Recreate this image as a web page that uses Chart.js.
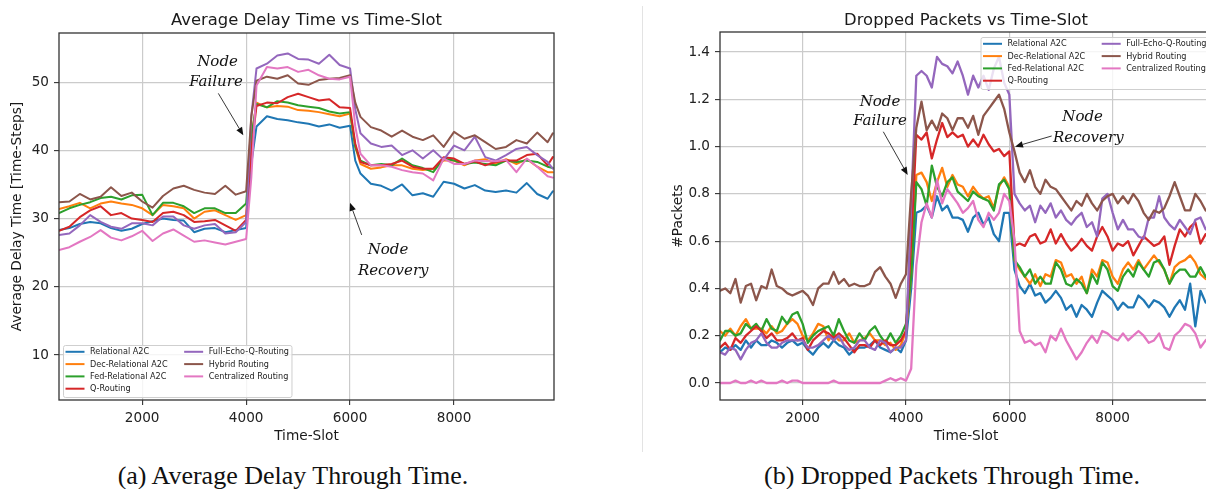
<!DOCTYPE html>
<html><head><meta charset="utf-8">
<script src="https://cdn.jsdelivr.net/npm/chart.js@4.4.1/dist/chart.umd.min.js"></script>
<style>
html,body{margin:0;padding:0;background:#fff;overflow:hidden;width:1206px;height:489px;}
#wrap{position:relative;width:1206px;height:489px;overflow:hidden;}
canvas{position:absolute;top:0;}
#c1{left:0;}
#c2{left:620px;}
.sep{position:absolute;left:642px;top:6px;width:1px;height:446px;background:#e3e3e3;}
.cap{position:absolute;top:463px;width:600px;text-align:center;font-family:"Liberation Serif",serif;font-size:26px;line-height:26px;color:#111;white-space:nowrap;}
</style></head>
<body><div id="wrap">
<div class="sep"></div>
<canvas id="c1" width="600" height="455"></canvas>
<canvas id="c2" width="620" height="455"></canvas>
<div class="cap" style="left:-7px">(a) Average Delay Through Time.</div>
<div class="cap" style="left:652px">(b) Dropped Packets Through Time.</div>
</div>
<script>
// ---------- series names & colours ----------
const seriesNames = ['Relational A2C','Dec-Relational A2C','Fed-Relational A2C','Q-Routing','Full-Echo-Q-Routing','Hybrid Routing','Centralized Routing'];
const seriesColors = ['#1f77b4','#ff7f0e','#2ca02c','#d62728','#9467bd','#8c564b','#e377c2'];

// ---------- (a) Average delay ----------
const delaySlots = [400,600,800,1000,1200,1400,1600,1800,2000,2200,2400,2600,2800,3000,3200,3400,3600,3800,4000,4100,4200,4400,4600,4800,5000,5200,5400,5600,5800,6000,6100,6200,6400,6600,6800,7000,7200,7400,7600,7800,8000,8200,8400,8600,8800,9000,9200,9400,9600,9800,9900];
const delayRelational = [28.3,28.6,29.2,29.5,29.3,28.6,28.2,28.5,29.2,29.6,30.0,29.8,29.7,28.0,28.5,28.6,28.0,28.3,28.6,38.0,43.5,45.0,44.6,44.4,44.1,43.9,43.5,43.8,43.3,43.6,38.5,36.6,35.1,34.8,34.1,35.0,33.4,33.7,33.2,35.4,35.1,34.4,34.9,34.1,33.9,34.1,33.8,35.2,33.6,32.9,34.0];
const delayDec = [31.4,31.8,32.3,31.5,32.2,32.5,32.2,32.0,31.5,30.5,32.0,31.8,31.5,30.0,31.0,31.2,30.5,29.8,30.5,42.0,47.0,46.3,46.5,46.4,45.9,45.8,45.6,45.3,45.0,45.4,40.5,38.0,37.3,37.5,37.8,37.8,37.3,37.1,37.3,38.5,38.5,37.8,38.5,38.7,38.0,38.7,38.0,38.7,37.6,36.8,36.8];
const delayFed = [30.8,31.5,32.0,32.4,33.0,33.2,32.8,33.4,33.5,30.5,32.3,32.3,31.8,30.8,31.5,31.5,30.8,30.8,32.2,42.0,46.8,46.3,47.2,47.0,46.6,46.4,46.2,45.7,45.4,45.6,40.5,38.5,37.8,38.0,37.8,38.8,37.8,37.4,36.8,38.8,38.5,38.0,38.2,38.0,37.8,38.5,38.3,38.5,38.3,37.6,37.4];
const delayQ = [28.2,28.8,30.2,31.2,31.8,30.5,30.8,30.0,29.8,29.5,30.8,31.0,30.5,29.5,29.6,29.8,29.0,28.2,29.8,40.0,46.5,47.0,46.9,47.8,48.3,47.8,47.3,47.5,46.3,46.2,41.0,38.3,37.8,37.8,38.0,38.5,37.6,37.3,37.3,39.0,38.8,38.0,38.4,37.8,38.3,38.5,38.5,39.3,39.5,37.8,39.0];
const delayFullEcho = [27.6,27.8,29.0,30.5,29.5,28.8,28.5,29.3,29.3,29.0,30.3,30.3,29.0,28.5,29.0,29.2,27.8,28.0,29.5,45.0,52.0,52.7,53.9,54.2,53.4,53.3,52.7,54.0,52.5,52.0,46.0,42.5,41.0,40.5,40.7,39.3,40.0,38.8,40.0,38.6,40.7,40.0,42.0,39.0,38.5,39.3,40.2,40.5,39.3,38.3,37.3];
const delayHybrid = [32.4,32.5,33.6,32.8,33.2,34.6,33.3,33.8,32.5,31.6,33.3,34.4,34.8,34.2,33.8,33.6,34.8,33.5,34.0,45.0,50.2,50.8,50.5,51.0,49.8,49.6,50.3,50.5,50.6,51.0,47.0,44.9,43.4,42.9,42.0,42.9,42.0,41.5,42.2,40.5,42.7,41.7,42.2,41.2,40.2,40.5,41.5,41.0,42.6,41.2,42.5];
const delayCentral = [25.4,25.8,26.6,27.3,28.3,27.2,26.8,27.4,28.2,26.7,27.8,28.4,27.5,26.6,26.8,26.5,26.2,26.6,27.0,36.0,49.5,52.2,52.0,52.2,51.5,51.8,51.0,50.5,50.4,50.8,43.5,39.5,37.8,37.8,37.6,37.1,36.8,36.6,35.6,38.8,38.0,38.0,38.5,38.4,38.4,38.6,36.8,38.8,37.6,36.2,36.0];
const delayTicksY = [10,20,30,40,50];

// ---------- (b) Dropped packets ----------
const dropSlots = [400,500,600,700,800,900,1000,1100,1200,1300,1400,1500,1600,1700,1800,1900,2000,2100,2200,2300,2400,2500,2600,2700,2800,2900,3000,3100,3200,3300,3400,3500,3600,3700,3800,3900,4000,4100,4200,4300,4400,4500,4600,4700,4800,4900,5000,5100,5200,5300,5400,5500,5600,5700,5800,5900,6000,6100,6200,6300,6400,6500,6600,6700,6800,6900,7000,7100,7200,7300,7400,7500,7600,7700,7800,7900,8000,8100,8200,8300,8400,8500,8600,8700,8800,8900,9000,9100,9200,9300,9400,9500,9600,9700,9800,9900];
const dropRelational = [0.13,0.15,0.14,0.16,0.14,0.18,0.15,0.18,0.16,0.16,0.18,0.17,0.15,0.17,0.18,0.16,0.17,0.14,0.12,0.15,0.17,0.15,0.18,0.16,0.15,0.12,0.14,0.15,0.15,0.16,0.18,0.15,0.14,0.13,0.15,0.13,0.18,
  0.40,0.72,0.73,0.75,0.70,0.79,0.73,0.75,0.70,0.70,0.69,0.64,0.70,0.72,0.67,0.70,0.63,0.60,0.72,0.72,
  0.48,0.41,0.38,0.42,0.37,0.38,0.34,0.36,0.39,0.36,0.31,0.33,0.28,0.33,0.31,0.28,0.34,0.39,0.37,0.35,0.31,0.34,0.32,0.32,0.37,0.35,0.32,0.35,0.34,0.32,0.28,0.32,0.35,0.31,0.42,0.24,0.39,0.34,0.36];
const dropDec = [0.22,0.20,0.23,0.20,0.24,0.27,0.23,0.23,0.23,0.21,0.24,0.21,0.22,0.25,0.27,0.25,0.20,0.18,0.21,0.25,0.24,0.18,0.21,0.18,0.18,0.21,0.17,0.18,0.19,0.21,0.18,0.18,0.16,0.17,0.14,0.16,0.22,
  0.45,0.88,0.89,0.85,0.77,0.85,0.91,0.83,0.88,0.84,0.83,0.79,0.83,0.80,0.78,0.79,0.74,0.83,0.87,0.83,
  0.52,0.48,0.45,0.42,0.46,0.41,0.46,0.45,0.52,0.51,0.45,0.46,0.42,0.45,0.38,0.48,0.45,0.52,0.51,0.45,0.42,0.48,0.51,0.48,0.52,0.48,0.51,0.54,0.51,0.48,0.42,0.49,0.51,0.52,0.54,0.51,0.46,0.44,0.46];
const dropFed = [0.18,0.22,0.22,0.20,0.21,0.25,0.23,0.25,0.22,0.27,0.23,0.22,0.28,0.25,0.29,0.30,0.25,0.17,0.20,0.22,0.23,0.24,0.20,0.27,0.22,0.18,0.17,0.21,0.18,0.22,0.24,0.20,0.17,0.21,0.17,0.20,0.25,
  0.45,0.85,0.82,0.75,0.92,0.83,0.79,0.85,0.87,0.81,0.79,0.77,0.81,0.79,0.78,0.77,0.73,0.84,0.86,0.82,
  0.52,0.49,0.45,0.48,0.42,0.45,0.42,0.42,0.51,0.48,0.42,0.41,0.44,0.42,0.38,0.46,0.42,0.51,0.48,0.41,0.39,0.45,0.48,0.45,0.51,0.48,0.45,0.51,0.52,0.48,0.42,0.46,0.48,0.48,0.45,0.45,0.49,0.45,0.44];
const dropQ = [0.15,0.17,0.14,0.19,0.17,0.20,0.22,0.24,0.22,0.19,0.21,0.18,0.18,0.19,0.21,0.18,0.19,0.14,0.18,0.20,0.22,0.21,0.19,0.21,0.19,0.16,0.13,0.16,0.16,0.15,0.18,0.16,0.18,0.16,0.16,0.18,0.22,
  0.60,1.05,1.03,1.06,0.95,1.03,1.10,1.04,1.06,1.04,1.05,1.00,1.03,1.00,1.05,1.01,0.98,0.99,0.96,0.98,
  0.58,0.59,0.58,0.62,0.63,0.59,0.60,0.65,0.59,0.63,0.59,0.56,0.58,0.61,0.58,0.56,0.62,0.66,0.62,0.56,0.59,0.58,0.60,0.54,0.58,0.62,0.60,0.58,0.59,0.62,0.50,0.58,0.65,0.62,0.66,0.68,0.59,0.63,0.60];
const dropFullEcho = [0.13,0.12,0.15,0.14,0.10,0.14,0.17,0.18,0.21,0.17,0.15,0.15,0.17,0.18,0.18,0.18,0.18,0.15,0.15,0.16,0.18,0.20,0.18,0.20,0.16,0.14,0.15,0.18,0.18,0.15,0.14,0.18,0.17,0.13,0.15,0.15,0.18,
  0.75,1.30,1.32,1.30,1.25,1.38,1.35,1.34,1.31,1.36,1.30,1.22,1.30,1.25,1.30,1.24,1.33,1.38,1.27,1.22,
  0.80,0.76,0.73,0.75,0.68,0.75,0.72,0.76,0.70,0.73,0.69,0.67,0.70,0.72,0.66,0.68,0.62,0.78,0.80,0.72,0.65,0.69,0.65,0.65,0.62,0.61,0.70,0.70,0.79,0.70,0.67,0.65,0.69,0.66,0.63,0.69,0.70,0.65,0.66];
const dropHybrid = [0.39,0.40,0.38,0.44,0.34,0.41,0.42,0.35,0.41,0.40,0.48,0.41,0.40,0.38,0.37,0.38,0.39,0.37,0.33,0.40,0.42,0.42,0.47,0.42,0.44,0.41,0.42,0.41,0.41,0.42,0.47,0.49,0.45,0.42,0.36,0.42,0.46,
  0.80,1.08,1.19,1.07,1.11,1.07,1.14,1.12,1.07,1.12,1.12,1.08,1.13,1.05,1.13,1.16,1.19,1.22,1.16,1.06,
  0.98,0.89,0.85,0.90,0.83,0.80,0.86,0.83,0.82,0.79,0.76,0.73,0.77,0.75,0.80,0.76,0.73,0.77,0.79,0.80,0.76,0.79,0.76,0.80,0.77,0.72,0.69,0.73,0.72,0.74,0.79,0.85,0.79,0.73,0.73,0.80,0.77,0.73,0.72];
const dropCentral = [0.00,0.00,0.00,0.01,0.00,0.00,0.01,0.00,0.01,0.00,0.00,0.00,0.01,0.00,0.01,0.01,0.00,0.00,0.00,0.00,0.00,0.00,0.01,0.00,0.00,0.00,0.00,0.00,0.00,0.00,0.00,0.00,0.01,0.02,0.01,0.02,0.01,
  0.06,0.50,0.68,0.76,0.70,0.86,0.76,0.82,0.79,0.76,0.72,0.74,0.77,0.69,0.66,0.72,0.69,0.72,0.80,0.77,
  0.60,0.22,0.17,0.18,0.16,0.17,0.13,0.20,0.18,0.23,0.18,0.14,0.10,0.13,0.17,0.20,0.17,0.22,0.21,0.19,0.18,0.21,0.18,0.20,0.22,0.20,0.17,0.18,0.21,0.15,0.14,0.20,0.22,0.25,0.24,0.21,0.15,0.18,0.20];
const dropTicksY = [0.0,0.2,0.4,0.6,0.8,1.0,1.2,1.4];

const xTickLabels = [2000,4000,6000,8000];

// ---------- helpers ----------
const SANS = '"DejaVu Sans", sans-serif';
const GRID = '#cbcbcb';

function makeDatasets(slots, arrays, lw) {
  return arrays.map((arr, i) => ({
    label: seriesNames[i],
    data: arr.map((v, k) => ({x: slots[k], y: v})),
    borderColor: seriesColors[i],
    backgroundColor: seriesColors[i],
    borderWidth: lw,
    pointRadius: 0,
    pointHoverRadius: 0,
    tension: 0,
    fill: false,
    order: arrays.length - i,
    borderJoinStyle: 'round',
    borderCapStyle: 'round'
  }));
}

function drawArrow(ctx, tx, ty, hx, hy) {
  const ang = Math.atan2(hy - ty, hx - tx);
  const L = 8, W = 3.3;
  const bx = hx - L * Math.cos(ang), by = hy - L * Math.sin(ang);
  ctx.strokeStyle = '#222';
  ctx.lineWidth = 0.9;
  ctx.beginPath(); ctx.moveTo(tx, ty); ctx.lineTo(bx, by); ctx.stroke();
  ctx.fillStyle = '#111';
  ctx.beginPath();
  ctx.moveTo(hx, hy);
  ctx.lineTo(bx + W * Math.sin(ang), by - W * Math.cos(ang));
  ctx.lineTo(bx - W * Math.sin(ang), by + W * Math.cos(ang));
  ctx.closePath(); ctx.fill();
}

const decorPlugin = {
  id: 'decor',
  afterDatasetsDraw(chart, args, o) {
    const {ctx, chartArea: ca} = chart;
    const xs = chart.scales.x, ys = chart.scales.y;
    ctx.save();
    // frame
    ctx.strokeStyle = '#333';
    ctx.lineWidth = 1.3;
    ctx.strokeRect(ca.left, ca.top, ca.right - ca.left, ca.bottom - ca.top);
    // annotations
    ctx.fillStyle = '#111';
    ctx.font = 'italic 15px "DejaVu Serif", serif';
    ctx.textAlign = 'center';
    ctx.textBaseline = 'middle';
    for (const n of o.notes) ctx.fillText(n.t, xs.getPixelForValue(n.x), ys.getPixelForValue(n.y));
    for (const a of o.arrows) drawArrow(ctx, xs.getPixelForValue(a.from[0]), ys.getPixelForValue(a.from[1]), xs.getPixelForValue(a.to[0]), ys.getPixelForValue(a.to[1]));
    // legend
    const ds = chart.data.datasets;
    const fs = 8.1;
    ctx.font = fs + 'px ' + SANS;
    const col1 = ds.slice(0, 4), col2 = ds.slice(4);
    const w1 = Math.max(...col1.map(d => ctx.measureText(d.label).width));
    const w2 = Math.max(...col2.map(d => ctx.measureText(d.label).width));
    const pad = 2.5, handle = 19, hgap = 5.5, cgap = 16.5, rowH = 12.3, boxH = 52;
    const boxW = pad + handle + hgap + w1 + cgap + handle + hgap + w2 + pad;
    let x0, y0;
    if (o.legendLoc === 'lower left') { x0 = ca.left + 4; y0 = ca.bottom - 3 - boxH; }
    else { x0 = ca.right - 3 - boxW; y0 = ca.top + 5; }
    ctx.fillStyle = 'rgba(255,255,255,0.8)';
    ctx.strokeStyle = '#cfcfcf';
    ctx.lineWidth = 1;
    ctx.beginPath();
    ctx.roundRect(x0 + 0.5, y0 + 0.5, boxW, boxH, 2);
    ctx.fill(); ctx.stroke();
    ctx.textAlign = 'left';
    ctx.textBaseline = 'middle';
    ds.forEach((d, i) => {
      const col = i < 4 ? 0 : 1, row = i < 4 ? i : i - 4;
      const hx = x0 + pad + (col ? handle + hgap + w1 + cgap : 0);
      const cy = y0 + 6.8 + row * rowH;
      ctx.strokeStyle = d.borderColor; ctx.lineWidth = 2;
      ctx.beginPath(); ctx.moveTo(hx, cy); ctx.lineTo(hx + handle, cy); ctx.stroke();
      ctx.fillStyle = '#222';
      ctx.fillText(d.label, hx + handle + hgap, cy + 0.5);
    });
    // titles
    const cx = (ca.left + ca.right) / 2;
    ctx.fillStyle = '#1a1a1a';
    ctx.textAlign = 'center';
    ctx.textBaseline = 'alphabetic';
    ctx.font = '16.4px ' + SANS;
    ctx.fillText(o.title, cx, 25);
    ctx.font = '13.7px ' + SANS;
    ctx.fillText(o.xTitle, cx, 439.5);
    ctx.translate(o.yTitleX, (ca.top + ca.bottom) / 2);
    ctx.rotate(-Math.PI / 2);
    ctx.textBaseline = 'middle';
    ctx.fillText(o.yTitle, 0, 0);
    ctx.restore();
  }
};

function makeScales(c) {
  const tickFont = {family: SANS, size: 13.6};
  return {
    x: {
      type: 'linear', min: 400, max: 9923,
      afterFit: s => { s.height = 55; },
      afterBuildTicks: s => { s.ticks = xTickLabels.map(v => ({value: v})); },
      grid: {color: GRID, lineWidth: 1.2, drawTicks: true, tickLength: 5, tickColor: '#333', tickWidth: 1.1},
      border: {display: false},
      ticks: {autoSkip: false, maxRotation: 0, minRotation: 0, padding: 5, color: '#222', font: tickFont, callback: v => String(v)}
    },
    y: {
      type: 'linear', min: c.ymin, max: c.ymax,
      afterFit: s => { s.width = c.yw; },
      afterBuildTicks: s => { s.ticks = c.ticks.map(v => ({value: v})); },
      grid: {color: GRID, lineWidth: 1.2, drawTicks: true, tickLength: 5, tickColor: '#333', tickWidth: 1.1},
      border: {display: false},
      ticks: {autoSkip: false, padding: 5, color: '#222', font: tickFont, callback: c.fmt}
    }
  };
}

Chart.defaults.font.family = SANS;

new Chart(document.getElementById('c1'), {
  type: 'line',
  data: {datasets: makeDatasets(delaySlots, [delayRelational, delayDec, delayFed, delayQ, delayFullEcho, delayHybrid, delayCentral], 2)},
  options: {
    responsive: false, animation: false, devicePixelRatio: 1,
    layout: {padding: {left: 0, top: 33, right: 46, bottom: 0}},
    scales: makeScales({ymin: 3.4, ymax: 57.2, ticks: delayTicksY, yw: 59, fmt: v => String(v)}),
    plugins: {
      legend: {display: false}, tooltip: {enabled: false}, title: {display: false},
      decor: {
        title: 'Average Delay Time vs Time-Slot', xTitle: 'Time-Slot', yTitle: 'Average Delay Time [Time-Steps]', yTitleX: 17,
        legendLoc: 'lower left',
        notes: [{t: 'Node', x: 3450, y: 53.0}, {t: 'Failure', x: 3420, y: 50.0}, {t: 'Node', x: 6730, y: 25.3}, {t: 'Recovery', x: 6830, y: 22.35}],
        arrows: [{from: [3465, 48.35], to: [3946, 42.2]}, {from: [6223, 27.6], to: [5998, 32.3]}]
      }
    }
  },
  plugins: [decorPlugin]
});

new Chart(document.getElementById('c2'), {
  type: 'line',
  data: {datasets: makeDatasets(dropSlots, [dropRelational, dropDec, dropFed, dropQ, dropFullEcho, dropHybrid, dropCentral], 2.3)},
  options: {
    responsive: false, animation: false, devicePixelRatio: 1,
    layout: {padding: {left: 0, top: 32, right: 28, bottom: 0}},
    scales: makeScales({ymin: -0.072, ymax: 1.485, ticks: dropTicksY, yw: 100, fmt: v => Number(v).toFixed(1)}),
    plugins: {
      legend: {display: false}, tooltip: {enabled: false}, title: {display: false},
      decor: {
        title: 'Dropped Packets vs Time-Slot', xTitle: 'Time-Slot', yTitle: '#Packets', yTitleX: 58,
        legendLoc: 'upper right',
        notes: [{t: 'Node', x: 3497, y: 1.19}, {t: 'Failure', x: 3497, y: 1.106}, {t: 'Node', x: 7420, y: 1.124}, {t: 'Recovery', x: 7529, y: 1.035}],
        arrows: [{from: [3561, 1.063], to: [4033, 0.88]}, {from: [6820, 1.045], to: [6110, 1.0]}]
      }
    }
  },
  plugins: [decorPlugin]
});
</script>
</body></html>
